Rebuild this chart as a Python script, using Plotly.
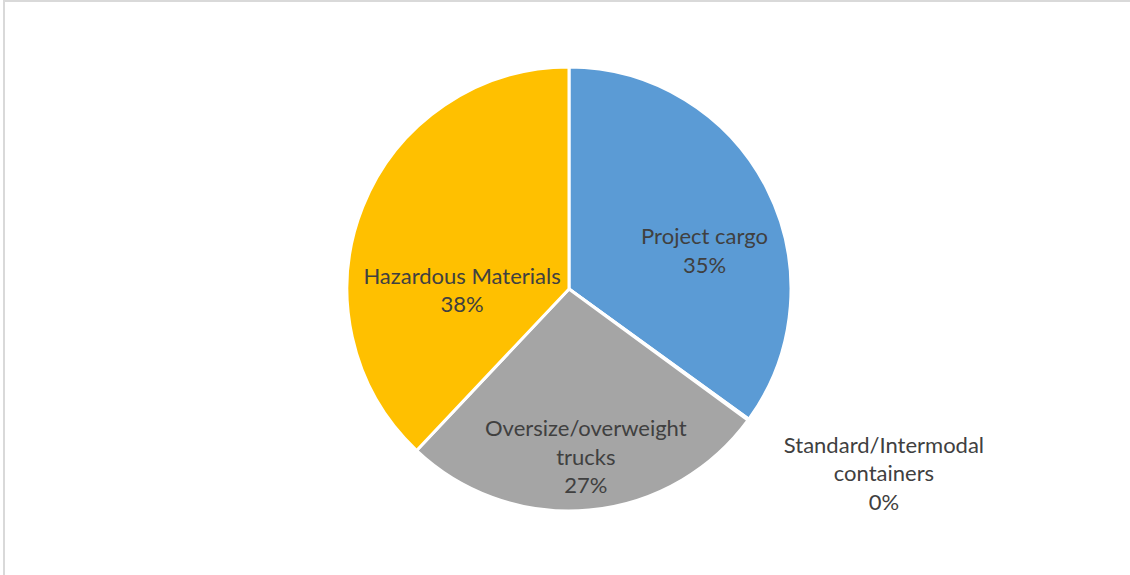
import plotly.graph_objects as go

labels = ["Project cargo", "Standard/Intermodal<br>containers", "Oversize/overweight<br>trucks", "Hazardous Materials"]
values = [35, 0.1, 27, 38]
colors = ["#5B9BD5", "#ED7D31", "#A5A5A5", "#FFC000"]
positions = ["inside", "outside", "inside", "inside"]

# label-placement padding (blank lines above, indent on each line)
pad_lines = [1, 2, 1, 3]
indents = [11, 0, 6, 0]
nb = "&nbsp;"
texts = [nb * k + l.replace("<br>", "<br>" + nb * k) for l, k in zip(labels, indents)]
templates = ["&nbsp;<br>" * p + "%{text}<br>" + nb * k + "%{percent:.0%}"
             for p, k in zip(pad_lines, indents)]

W, H = 1130, 575
cx, cy, r = 569, 289, 222

fig = go.Figure(go.Pie(
    labels=labels,
    values=values,
    text=texts,
    sort=False,
    direction="clockwise",
    rotation=0,
    marker=dict(colors=colors, line=dict(color="white", width=3)),
    texttemplate=templates,
    textposition=positions,
    insidetextorientation="horizontal",
    textfont=dict(family="Lato", size=22, color="#404040"),
    showlegend=False,
    hoverinfo="label+percent",
    domain=dict(x=[(cx - r) / W, (cx + r) / W], y=[1 - (cy + r) / H, 1 - (cy - r) / H]),
))

fig.update_layout(
    width=W, height=H,
    margin=dict(l=0, r=0, t=0, b=0),
    paper_bgcolor="white",
    plot_bgcolor="white",
    uniformtext=dict(minsize=22, mode="show"),
    shapes=[dict(type="rect", xref="paper", yref="paper",
                 x0=4 / W, x1=1.05, y0=-0.05, y1=1 - 1 / H,
                 line=dict(color="#D9D9D9", width=2), fillcolor="rgba(0,0,0,0)")],
)

fig.write_html("out.html", config={"displayModeBar": False},
               post_script="document.body.style.margin='0';")
